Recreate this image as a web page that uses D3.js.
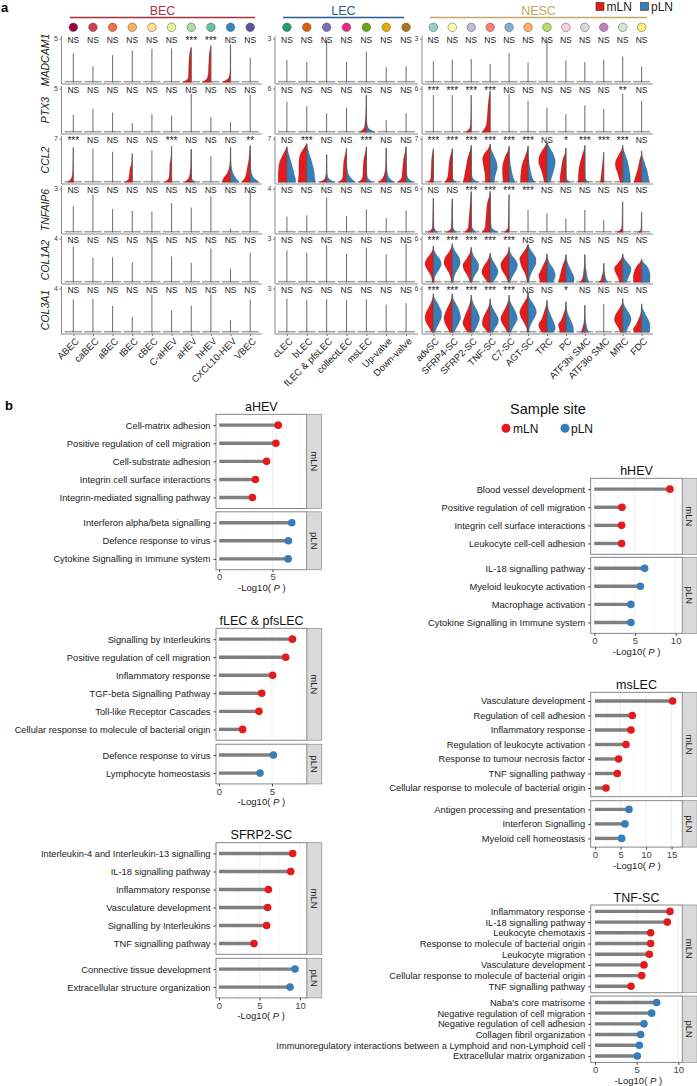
<!DOCTYPE html>
<html><head><meta charset="utf-8">
<script src="https://cdn.jsdelivr.net/npm/d3@7"></script>
<style>body{margin:0;background:#fff;} text{font-family:"Liberation Sans",Arial,Helvetica,sans-serif;}</style>
</head><body><svg id="c" width="697" height="1086"></svg>
<script>
// ================= DATA: panel a =================
const genes = ["MADCAM1","PTX3","CCL2","TNFAIP6","COL1A2","COL3A1"];
const becTypes = ["ABEC","caBEC","aBEC","tBEC","cBEC","C-aHEV","aHEV","hHEV","CXCL10-HEV","VBEC"];
const lecTypes = ["cLEC","bLEC","fLEC & pfsLEC","collectLEC","msLEC","Up-valve","Down-valve"];
const nescTypes = ["advSC","SFRP4-SC","SFRP2-SC","TNF-SC","C7-SC","AGT-SC","TRC","PC","ATF3hi SMC","ATF3lo SMC","MRC","FDC"];
const becColors = ["#9e0142","#d53e4f","#f46d43","#fdae61","#fee08b","#e6f598","#abdda4","#66c2a5","#3288bd","#5e4fa2"];
const lecColors = ["#1b9e77","#d95f02","#7570b3","#e7298a","#66a61e","#e6ab02","#a6761d"];
const nescColors = ["#8dd3c7","#ffffb3","#bebada","#fb8072","#80b1d3","#fdb462","#b3de69","#fccde5","#d9d9d9","#bc80bd","#ccebc5","#ffed6f"];
// y-axis maximum tick per gene row
const yMaxBEC  = [5,5,7,3,4,4];
const yMaxLEC  = [3,6,7,4,3,3];
const yMaxNESC = [3,6,7,6,6,6];
// significance labels (BEC 10 | LEC 7 | NESC 12)
const sigMADCAM1 = ["NS","NS","NS","NS","NS","NS","***","***","NS","NS", "NS","NS","NS","NS","NS","NS","NS", "NS","NS","NS","NS","NS","NS","NS","NS","NS","NS","NS","NS"];
const sigPTX3    = ["NS","NS","NS","NS","NS","NS","NS","NS","NS","NS", "NS","NS","NS","NS","NS","NS","NS", "***","***","***","***","NS","NS","NS","NS","NS","NS","**","NS"];
const sigCCL2    = ["***","NS","NS","NS","NS","***","NS","NS","NS","**", "NS","***","NS","NS","***","NS","NS", "***","***","***","***","***","***","NS","*","***","***","***","NS"];
const sigTNFAIP6 = ["NS","NS","NS","NS","NS","NS","NS","NS","NS","NS", "NS","NS","NS","NS","NS","NS","NS", "NS","NS","***","***","***","***","NS","NS","NS","NS","NS","NS"];
const sigCOL1A2  = ["NS","NS","NS","NS","NS","NS","NS","NS","NS","NS", "NS","NS","NS","NS","NS","NS","NS", "***","***","***","***","***","NS","NS","NS","NS","NS","NS","NS"];
const sigCOL3A1  = ["NS","NS","NS","NS","NS","NS","NS","NS","NS","NS", "NS","NS","NS","NS","NS","NS","NS", "***","***","***","***","***","NS","NS","*","NS","NS","NS","NS"];
// maximum expression (violin top) per cell type
const topMADCAM1 = [3.3,1.8,3.1,3.65,3.85,3.85,4.0,4.2,4.3,2.8, 1.55,1.4,2.9,1.4,2.1,1.04,1.1, 1.45,1.55,1.6,1.27,2.0,1.36,2.9,1.5,1.38,1.55,1.78,1.08];
const topPTX3    = [2.0,2.7,2.25,1.05,2.07,1.9,4.4,1.7,1.15,4.25, 4.2,3.6,2.6,3.4,5.1,1.7,2.6, 5.1,5.1,5.1,5.7,5.2,4.3,3.4,2.5,3.7,3.2,5.3,4.3];
const topCCL2    = [5.6,5.4,4.9,4.6,5.1,5.8,5.3,4.2,5.6,5.9, 5.7,6.2,4.45,5.5,5.7,5.5,5.7, 5.4,5.4,5.9,6.1,5.8,5.8,6.4,5.5,5.9,4.8,5.9,5.0];
const topTNFAIP6 = [1.8,2.58,1.6,1.48,1.43,2.0,1.7,2.47,0.25,2.9, 1.45,1.54,3.2,1.5,2.1,1.3,2.0, 4.67,4.6,5.6,5.6,5.2,3.07,2.6,1.9,3.07,1.7,4.2,2.8];
const topCOL1A2  = [3.26,2.25,2.3,1.84,3.7,2.37,1.78,3.1,1.24,2.7, 2.19,2.03,2.54,1.96,2.38,1.91,2.65, 5.0,5.3,4.8,4.0,4.8,5.2,3.9,3.8,3.8,2.6,3.9,3.2];
const topCOL3A1  = [3.0,3.05,2.4,1.4,3.45,2.0,2.45,3.45,1.1,3.0, 2.3,2.2,2.26,2.2,2.26,1.9,2.0, 5.3,5.3,5.1,4.6,5.1,5.5,4.4,4.2,3.7,3.9,4.6,3.9];
// violin half-widths (mLN = L, pLN = R) at 8 equally spaced levels from 0 to the top
const shapeMADCAM1 = {
  "aHEV":{L:[1.0,0.35,0.32,0.3,0.28,0.26,0.22,0.15]},
  "hHEV":{L:[1.0,0.4,0.3,0.28,0.25,0.22,0.2,0.12]},
  "CXCL10-HEV":{L:[0.9,0.2,0.08,0.06,0.05,0.05,0.04,0.03]}
};
const shapePTX3 = {
  "msLEC":{L:[0.8,0.25,0.15,0.1,0.07,0.05,0.03,0.02],R:[1.0,0.2,0.07,0.04,0.03,0.02,0.02,0.01]},
  "SFRP2-SC":{L:[0.7,0.15,0.08,0.05,0.04,0.03,0.02,0.02]},
  "TNF-SC":{L:[1.0,0.55,0.4,0.35,0.3,0.26,0.2,0.12]}
};
const shapeCCL2 = {
  "ABEC":{L:[0.7,0.2,0.1,0.06,0.05,0.04,0.03,0.02]},
  "tBEC":{L:[0.9,0.4,0.35,0.3,0.25,0.1,0.05,0.03]},
  "C-aHEV":{L:[0.8,0.3,0.25,0.22,0.2,0.12,0.06,0.03]},
  "aHEV":{L:[0.8,0.3,0.15,0.1,0.05,0.04,0.03,0.02],R:[0.5,0.05,0.03,0.02,0.02,0.02,0.01,0.01]},
  "CXCL10-HEV":{L:[1.0,0.8,0.4,0.2,0.1,0.06,0.04,0.02],R:[1.0,0.6,0.3,0.15,0.08,0.05,0.03,0.02]},
  "VBEC":{L:[1.0,0.6,0.45,0.35,0.25,0.15,0.1,0.05],R:[1.0,0.4,0.15,0.08,0.05,0.04,0.03,0.02]},
  "cLEC":{L:[1.0,1.0,1.0,0.95,0.9,0.75,0.5,0.25],R:[1.0,0.95,0.8,0.7,0.55,0.4,0.25,0.1]},
  "bLEC":{L:[1.0,0.95,0.9,0.9,0.9,0.85,0.7,0.35],R:[1.0,0.9,0.85,0.75,0.6,0.45,0.25,0.1]},
  "fLEC & pfsLEC":{L:[0.8,0.2,0.1,0.06,0.04,0.03,0.02,0.02],R:[0.9,0.25,0.08,0.05,0.03,0.02,0.02,0.01]},
  "collectLEC":{L:[0.9,0.45,0.4,0.38,0.35,0.3,0.2,0.1],R:[1.0,0.5,0.2,0.1,0.05,0.03,0.02,0.01]},
  "msLEC":{L:[0.9,0.45,0.4,0.38,0.35,0.3,0.2,0.08],R:[0.7,0.15,0.06,0.04,0.03,0.02,0.02,0.01]},
  "Up-valve":{L:[0.9,0.4,0.2,0.1,0.06,0.04,0.03,0.02],R:[0.9,0.35,0.15,0.08,0.04,0.03,0.02,0.01]},
  "Down-valve":{L:[1.0,0.5,0.45,0.4,0.35,0.3,0.2,0.08],R:[0.8,0.2,0.08,0.05,0.03,0.02,0.02,0.01]},
  "advSC":{L:[0.6,0.3,0.28,0.26,0.24,0.22,0.18,0.1]},
  "SFRP4-SC":{L:[0.9,0.6,0.5,0.45,0.4,0.35,0.25,0.1],R:[0.5,0.05,0.03,0.02,0.02,0.02,0.01,0.01]},
  "SFRP2-SC":{L:[1.0,0.85,0.75,0.65,0.55,0.45,0.3,0.1],R:[0.8,0.15,0.05,0.03,0.02,0.02,0.01,0.01]},
  "TNF-SC":{L:[0.6,0.6,0.65,0.75,0.85,0.9,0.7,0.25],R:[0.5,0.55,0.7,0.85,0.8,0.6,0.35,0.1]},
  "C7-SC":{L:[0.7,0.75,0.8,0.8,0.75,0.6,0.4,0.1],R:[0.7,0.5,0.35,0.25,0.15,0.1,0.05,0.02]},
  "AGT-SC":{L:[0.9,0.9,0.85,0.8,0.7,0.5,0.3,0.1],R:[0.8,0.5,0.35,0.25,0.15,0.1,0.05,0.02]},
  "TRC":{L:[0.3,0.45,0.6,0.8,1.0,0.95,0.7,0.3],R:[0.4,0.55,0.75,0.9,1.0,0.9,0.65,0.3]},
  "PC":{L:[0.7,0.7,0.65,0.55,0.5,0.4,0.25,0.05],R:[0.5,0.05,0.03,0.02,0.02,0.02,0.01,0.01]},
  "ATF3hi SMC":{L:[0.8,0.8,0.75,0.7,0.6,0.45,0.3,0.1],R:[0.5,0.05,0.03,0.02,0.02,0.02,0.01,0.01]},
  "ATF3lo SMC":{L:[0.4,0.35,0.3,0.25,0.2,0.15,0.1,0.05]},
  "MRC":{L:[0.3,0.45,0.6,0.8,0.9,0.75,0.45,0.15],R:[0.9,0.9,0.85,0.75,0.65,0.5,0.3,0.1]},
  "FDC":{L:[0.9,0.8,0.65,0.5,0.4,0.3,0.2,0.05],R:[0.9,0.85,0.75,0.65,0.5,0.35,0.2,0.05]}
};
const shapeTNFAIP6 = {
  "advSC":{L:[0.7,0.12,0.1,0.08,0.07,0.06,0.05,0.03],R:[0.5,0.1,0.05,0.03,0.02,0.02,0.02,0.01]},
  "SFRP4-SC":{L:[0.7,0.12,0.1,0.08,0.07,0.06,0.05,0.03],R:[0.5,0.1,0.05,0.03,0.02,0.02,0.02,0.01]},
  "SFRP2-SC":{L:[0.8,0.35,0.3,0.25,0.2,0.15,0.1,0.05],R:[0.6,0.1,0.04,0.03,0.02,0.02,0.01,0.01]},
  "TNF-SC":{L:[1.0,0.6,0.55,0.5,0.45,0.4,0.3,0.1],R:[0.9,0.15,0.1,0.08,0.06,0.04,0.03,0.02]},
  "C7-SC":{L:[0.6,0.12,0.1,0.08,0.07,0.06,0.05,0.03]},
  "MRC":{L:[0.7,0.15,0.1,0.08,0.07,0.06,0.05,0.03]},
  "FDC":{L:[0.5,0.1,0.08,0.06,0.05,0.04,0.03,0.02]}
};
const shapeCOL1A2 = {
  "advSC":{L:[0.15,0.2,0.45,0.8,1.0,0.85,0.45,0.1],R:[0.1,0.15,0.4,0.75,0.95,0.8,0.4,0.1]},
  "SFRP4-SC":{L:[0.1,0.2,0.4,0.75,1.0,0.9,0.5,0.15],R:[0.1,0.2,0.4,0.75,0.95,0.85,0.5,0.15]},
  "SFRP2-SC":{L:[0.15,0.3,0.6,0.9,1.0,0.7,0.35,0.1],R:[0.1,0.25,0.55,0.85,0.9,0.65,0.3,0.1]},
  "TNF-SC":{L:[0.3,0.6,0.9,1.0,0.85,0.6,0.3,0.1],R:[0.3,0.6,0.85,0.95,0.8,0.55,0.3,0.1]},
  "C7-SC":{L:[0.1,0.3,0.6,0.9,1.0,0.8,0.4,0.1],R:[0.1,0.3,0.6,0.9,1.0,0.8,0.4,0.1]},
  "AGT-SC":{L:[0.1,0.2,0.4,0.7,0.9,1.0,0.7,0.3],R:[0.1,0.2,0.4,0.7,0.95,0.95,0.65,0.25]},
  "TRC":{L:[0.8,0.9,1.0,0.8,0.6,0.4,0.2,0.05],R:[0.7,0.9,1.0,0.9,0.7,0.4,0.2,0.05]},
  "PC":{L:[0.9,0.8,0.7,0.6,0.5,0.35,0.2,0.05],R:[0.9,1.0,0.9,0.7,0.5,0.3,0.15,0.05]},
  "ATF3hi SMC":{L:[0.6,0.3,0.2,0.15,0.1,0.05,0.03,0.02],R:[0.5,0.35,0.25,0.2,0.1,0.05,0.03,0.02]},
  "ATF3lo SMC":{L:[0.6,0.35,0.25,0.2,0.1,0.05,0.03,0.02],R:[0.5,0.3,0.2,0.15,0.1,0.05,0.03,0.02]},
  "MRC":{L:[0.4,0.5,0.7,0.9,1.0,0.7,0.35,0.1],R:[0.45,0.6,0.8,0.95,1.0,0.75,0.4,0.1]},
  "FDC":{L:[1.0,1.0,1.0,0.95,0.85,0.7,0.45,0.15],R:[1.0,1.0,1.0,1.0,0.9,0.75,0.5,0.15]}
};
const shapeCOL3A1 = {
  "advSC":{L:[0.2,0.5,0.85,1.0,0.9,0.6,0.3,0.1],R:[0.2,0.4,0.7,0.95,1.0,0.8,0.5,0.15]},
  "SFRP4-SC":{L:[0.3,0.6,0.9,1.0,0.85,0.6,0.3,0.1],R:[0.2,0.5,0.8,1.0,0.9,0.7,0.4,0.1]},
  "SFRP2-SC":{L:[0.4,0.8,1.0,0.85,0.65,0.4,0.2,0.05],R:[0.3,0.6,0.85,1.0,0.85,0.6,0.3,0.1]},
  "TNF-SC":{L:[0.3,0.7,0.95,0.9,0.7,0.45,0.2,0.05],R:[0.3,0.6,0.9,1.0,0.8,0.5,0.25,0.05]},
  "C7-SC":{L:[0.2,0.5,0.85,1.0,0.8,0.5,0.25,0.05],R:[0.2,0.45,0.8,1.0,0.85,0.6,0.3,0.05]},
  "AGT-SC":{L:[0.1,0.2,0.5,0.85,1.0,0.8,0.45,0.1],R:[0.1,0.2,0.45,0.8,1.0,0.85,0.5,0.1]},
  "TRC":{L:[0.6,0.9,1.0,0.7,0.5,0.35,0.2,0.05],R:[0.7,1.0,0.9,0.7,0.5,0.3,0.15,0.05]},
  "PC":{L:[0.7,0.8,0.9,0.6,0.4,0.25,0.1,0.03],R:[0.9,0.9,0.8,0.6,0.4,0.2,0.1,0.03]},
  "ATF3hi SMC":{L:[0.5,0.3,0.2,0.1,0.05,0.03,0.02,0.02],R:[0.5,0.3,0.2,0.1,0.05,0.03,0.02,0.02]},
  "MRC":{L:[0.3,0.5,0.8,1.0,0.9,0.6,0.3,0.05],R:[0.4,0.6,0.85,1.0,0.9,0.6,0.3,0.05]},
  "FDC":{L:[0.9,1.0,0.7,0.5,0.3,0.15,0.05,0.02],R:[0.9,1.0,1.0,0.9,0.7,0.45,0.25,0.05]}
};

// ================= DATA: panel b =================
const aHEV_mLN = ["Cell-matrix adhesion","Positive regulation of cell migration","Cell-substrate adhesion","Integrin cell surface interactions","Integrin-mediated signalling pathway"];
const aHEV_mLN_p = [5.53,5.31,4.44,3.39,3.11];
const aHEV_pLN = ["Interferon alpha/beta signalling","Defence response to virus","Cytokine Signalling in Immune system"];
const aHEV_pLN_p = [6.80,6.49,6.46];
const hHEV_mLN = ["Blood vessel development","Positive regulation of cell migration","Integrin cell surface interactions","Leukocyte cell-cell adhesion"];
const hHEV_mLN_p = [9.3,3.4,3.36,3.36];
const hHEV_pLN = ["IL-18 signalling pathway","Myeloid leukocyte activation","Macrophage activation","Cytokine Signalling in Immune system"];
const hHEV_pLN_p = [6.19,5.66,4.5,4.5];
const fLEC_mLN = ["Signalling by Interleukins","Positive regulation of cell migration","Inflammatory response","TGF-beta Signalling Pathway","Toll-like Receptor Cascades","Cellular response to molecule of bacterial origin"];
const fLEC_mLN_p = [6.92,6.29,5.06,4.03,3.77,2.23];
const fLEC_pLN = ["Defence response to virus","Lymphocyte homeostasis"];
const fLEC_pLN_p = [5.13,3.87];
const msLEC_mLN = ["Vasculature development","Regulation of cell adhesion","Inflammatory response","Regulation of leukocyte activation","Response to tumour necrosis factor","TNF signalling pathway","Cellular response to molecule of bacterial origin"];
const msLEC_mLN_p = [15.2,7.3,7.05,6.07,4.63,4.37,2.15];
const msLEC_pLN = ["Antigen processing and presentation","Interferon Signalling","Myeloid cell homeostasis"];
const msLEC_pLN_p = [6.65,5.87,5.22];
const SFRP2_mLN = ["Interleukin-4 and Interleukin-13 signalling","IL-18 signalling pathway","Inflammatory response","Vasculature development","Signalling by Interleukins","TNF signalling pathway"];
const SFRP2_mLN_p = [9.09,8.85,6.09,6.0,5.88,4.32];
const SFRP2_pLN = ["Connective tissue development","Extracellular structure organization"];
const SFRP2_pLN_p = [9.38,8.77];
const TNF_mLN = ["Inflammatory response","IL-18 signalling pathway","Leukocyte chemotaxis","Response to molecule of bacterial origin","Leukocyte migration","Vasculature development","Cellular response to molecule of bacterial origin","TNF signalling pathway"];
const TNF_mLN_p = [9.0,8.68,6.68,6.68,6.52,5.88,5.6,4.32];
const TNF_pLN = ["Naba's core matrisome","Negative regulation of cell migration","Negative regulation of cell adhesion","Collagen fibril organization","Immunoregulatory interactions between a Lymphoid and non-Lymphoid cell","Extracellular matrix organization"];
const TNF_pLN_p = [7.4,6.8,5.88,5.48,5.32,5.08];

// ================= DRAWING =================
const RED = "#e41a1c", BLUE = "#377eb8";
const svg = d3.select("#c");
const sigByGene = [sigMADCAM1,sigPTX3,sigCCL2,sigTNFAIP6,sigCOL1A2,sigCOL3A1];
const topByGene = [topMADCAM1,topPTX3,topCCL2,topTNFAIP6,topCOL1A2,topCOL3A1];
const shapeByGene = [shapeMADCAM1,shapePTX3,shapeCCL2,shapeTNFAIP6,shapeCOL1A2,shapeCOL3A1];

svg.append("text").attr("x",1).attr("y",12).attr("font-size",13).attr("font-weight","bold").text("a");

// legend top right
svg.append("rect").attr("x",596).attr("y",2.5).attr("width",8).attr("height",8).attr("fill",RED).attr("stroke","#333").attr("stroke-width",0.6);
svg.append("text").attr("x",606.5).attr("y",11).attr("font-size",12).attr("fill","#222").text("mLN");
svg.append("rect").attr("x",640.5).attr("y",2.5).attr("width",8).attr("height",8).attr("fill",BLUE).attr("stroke","#333").attr("stroke-width",0.6);
svg.append("text").attr("x",651).attr("y",11).attr("font-size",12).attr("fill","#222").text("pLN");

// gene labels
genes.forEach((g,r)=>{
  svg.append("text").attr("transform",`translate(49,${60+50*r}) rotate(-90)`)
    .attr("text-anchor","middle").attr("font-size",10.5).attr("font-style","italic").attr("fill","#222").text(g);
});

const groupDefs = [
  {name:"BEC", types:becTypes, colors:becColors, yMax:yMaxBEC, off:0, x0:61.5, x1:262, col:"#a6303f", head:[70,255]},
  {name:"LEC", types:lecTypes, colors:lecColors, yMax:yMaxLEC, off:10, x0:275, x1:418, col:"#2a5d8f", head:[283,404]},
  {name:"NESC", types:nescTypes, colors:nescColors, yMax:yMaxNESC, off:17, x0:422, x1:653, col:"#c2a866", head:[430,647]}
];

function sidePath(cx, ys, top, w, s, hw){
  const n = w.length;
  const pts = w.map((v,i)=>({h: top*i/n, w: v}));
  pts.push({h: top, w: 0});
  pts.reverse();
  return d3.area().curve(d3.curveMonotoneY)
    .y(d=>ys(d.h)).x0(cx).x1(d=>cx + s*d.w*hw)(pts);
}

groupDefs.forEach(g=>{
  const xs = d3.scalePoint().domain(g.types).range([g.x0,g.x1]).padding(0.6);
  const hw = xs.step()*0.44;
  const G = svg.append("g");
  // header
  G.append("line").attr("x1",g.head[0]).attr("x2",g.head[1]).attr("y1",17.5).attr("y2",17.5)
    .attr("stroke",g.col).attr("stroke-width",1.6);
  G.append("text").attr("x",(g.head[0]+g.head[1])/2).attr("y",15).attr("text-anchor","middle")
    .attr("font-size",12.5).attr("fill",g.col).text(g.name);
  G.selectAll("circle.hd").data(g.types).join("circle").attr("class","hd")
    .attr("cx",d=>xs(d)).attr("cy",27.3).attr("r",4.3)
    .attr("fill",(d,i)=>g.colors[i]).attr("stroke","#555").attr("stroke-width",0.5);

  genes.forEach((gene,r)=>{
    const ptop = 36+50*r, pbot = 84+50*r;
    const ys = d3.scaleLinear().domain([0,g.yMax[r]]).range([82.3+50*r, 38.6+50*r]);
    // axes lines
    G.append("line").attr("x1",g.x0).attr("x2",g.x0).attr("y1",ptop).attr("y2",pbot).attr("stroke","#8a8a8a").attr("stroke-width",1);
    G.append("line").attr("x1",g.x0).attr("x2",g.x1).attr("y1",pbot).attr("y2",pbot).attr("stroke","#8a8a8a").attr("stroke-width",1);
    const ya = G.append("g").attr("transform",`translate(${g.x0},0)`)
      .call(d3.axisLeft(ys).tickValues([g.yMax[r]]).tickFormat(d3.format("d")).tickSize(2).tickPadding(1.5));
    ya.select(".domain").remove();
    ya.selectAll("line").attr("stroke","#777");
    ya.selectAll("text").attr("font-size",7).attr("fill","#444").attr("font-family","Liberation Sans, Arial, sans-serif");

    g.types.forEach((t,i)=>{
      const k = g.off+i, cx = xs(t);
      const top = topByGene[r][k];
      const sh = shapeByGene[r][t];
      // base (zero-expression spike)
      G.append("line").attr("x1",cx-hw).attr("x2",cx+hw).attr("y1",ys(0)-0.6).attr("y2",ys(0)-0.6)
        .attr("stroke","#a3a3a3").attr("stroke-width",1.6);
      if(sh && sh.L) G.append("path").attr("d",sidePath(cx,ys,top,sh.L,-1,hw)).attr("fill",RED).attr("stroke","#3a3a3a").attr("stroke-width",0.25);
      if(sh && sh.R) G.append("path").attr("d",sidePath(cx,ys,top,sh.R,1,hw)).attr("fill",BLUE).attr("stroke","#3a3a3a").attr("stroke-width",0.25);
      G.append("line").attr("x1",cx).attr("x2",cx).attr("y1",ys(0)).attr("y2",ys(top))
        .attr("stroke","#5a5a5a").attr("stroke-width",0.9);
      const s = sigByGene[r][k];
      G.append("text").attr("x",cx).attr("y",s==="NS"?42.6+50*r:44+50*r).attr("text-anchor","middle")
        .attr("font-size",s==="NS"?8.5:10).attr("fill","#222").text(s);
    });
  });
  // x axis labels
  const xa = G.append("g").attr("transform","translate(0,334)")
    .call(d3.axisBottom(xs).tickSize(2).tickPadding(2));
  xa.select(".domain").remove();
  xa.selectAll("line").attr("stroke","#777");
  xa.selectAll("text").attr("font-size",9.5).attr("fill","#222").attr("font-family","Liberation Sans, Arial, sans-serif")
    .attr("text-anchor","end").attr("dy",0)
    .attr("transform","translate(3,5) rotate(-45)");
});

// ================= panel b =================
svg.append("text").attr("x",5).attr("y",410).attr("font-size",13).attr("font-weight","bold").text("b");
svg.append("text").attr("x",548).attr("y",414).attr("text-anchor","middle").attr("font-size",14.5).attr("fill","#111").text("Sample site");
svg.append("circle").attr("cx",506).attr("cy",428.3).attr("r",4.5).attr("fill",RED);
svg.append("text").attr("x",513).attr("y",432.5).attr("font-size",12).attr("fill","#111").text("mLN");
svg.append("circle").attr("cx",565).attr("cy",428.3).attr("r",4.5).attr("fill",BLUE);
svg.append("text").attr("x",571).attr("y",432.5).attr("font-size",12).attr("fill","#111").text("pLN");

function lollipop(c){
  const G = svg.append("g");
  const x = d3.scaleLinear().domain(c.domain).range([c.x0,c.x1]);
  const n1 = c.mT.length, n2 = c.pT.length;
  const h1 = (n1-1+1.2)*c.step, h2 = (n2-1+1.2)*c.step;
  const facets = [
    {terms:c.mT, vals:c.mV, col:RED, lab:"mLN", y0:c.top, y1:c.top+h1},
    {terms:c.pT, vals:c.pV, col:BLUE, lab:"pLN", y0:c.top+h1+c.gap, y1:c.top+h1+c.gap+h2}
  ];
  G.append("text").attr("x",(c.x0+c.x1)/2).attr("y",c.top-3.5).attr("text-anchor","middle")
    .attr("font-size",12.5).attr("fill","#111").text(c.title);
  const minor = c.ticks.map(v=>v+2.5);
  facets.forEach(f=>{
    const y = d3.scalePoint().domain(f.terms).range([f.y0,f.y1]).padding(0.6);
    minor.filter(v=>x(v)<c.x1-1).forEach(v=>G.append("line").attr("x1",x(v)).attr("x2",x(v)).attr("y1",f.y0).attr("y2",f.y1).attr("stroke","#f3f3f3").attr("stroke-width",0.5));
    c.ticks.forEach(v=>G.append("line").attr("x1",x(v)).attr("x2",x(v)).attr("y1",f.y0).attr("y2",f.y1).attr("stroke","#e8e8e8").attr("stroke-width",0.7));
    f.terms.forEach((t,i)=>{
      G.append("line").attr("x1",x(0)).attr("x2",x(f.vals[i])).attr("y1",y(t)).attr("y2",y(t))
        .attr("stroke","#7f7f7f").attr("stroke-width",3.4);
      G.append("circle").attr("cx",x(f.vals[i])).attr("cy",y(t)).attr("r",3.8).attr("fill",f.col);
    });
    G.append("rect").attr("x",c.x0).attr("y",f.y0).attr("width",c.x1-c.x0).attr("height",f.y1-f.y0)
      .attr("fill","none").attr("stroke","#7a7a7a").attr("stroke-width",0.9);
    const ya = G.append("g").attr("transform",`translate(${c.x0},0)`)
      .call(d3.axisLeft(y).tickSize(2.5).tickPadding(3));
    ya.select(".domain").remove();
    ya.selectAll("line").attr("stroke","#444");
    ya.selectAll("text").attr("font-size",9.3).attr("fill","#1a1a1a").attr("font-family","Liberation Sans, Arial, sans-serif");
    // strip
    G.append("rect").attr("x",c.x1).attr("y",f.y0).attr("width",14.8).attr("height",f.y1-f.y0)
      .attr("fill","#d9d9d9").attr("stroke","#8a8a8a").attr("stroke-width",0.7);
    G.append("text").attr("transform",`translate(${c.x1+7.4},${(f.y0+f.y1)/2}) rotate(90)`)
      .attr("text-anchor","middle").attr("dy","0.35em").attr("font-size",9.5).attr("fill","#1a1a1a").text(f.lab);
  });
  const yb = facets[1].y1;
  const xa = G.append("g").attr("transform",`translate(0,${yb})`)
    .call(d3.axisBottom(x).tickValues(c.ticks).tickSize(2.5).tickPadding(1.5));
  xa.select(".domain").remove();
  xa.selectAll("line").attr("stroke","#444");
  xa.selectAll("text").attr("font-size",9.5).attr("fill","#444").attr("font-family","Liberation Sans, Arial, sans-serif");
  const tt = G.append("text").attr("x",x(c.titleAt)).attr("y",yb+21.5).attr("text-anchor","middle").attr("font-size",9.5).attr("fill","#1a1a1a");
  tt.append("tspan").text("-Log10( ");
  tt.append("tspan").attr("font-style","italic").text("P");
  tt.append("tspan").text(" )");
}

lollipop({title:"aHEV", mT:aHEV_mLN, mV:aHEV_mLN_p, pT:aHEV_pLN, pV:aHEV_pLN_p, x0:216, x1:306.7, top:414.3, step:18.1, gap:3.4, domain:[-0.3,8.2], ticks:[0,5], titleAt:4});
lollipop({title:"hHEV", mT:hHEV_mLN, mV:hHEV_mLN_p, pT:hHEV_pLN, pV:hHEV_pLN_p, x0:590.7, x1:682.3, top:478.3, step:18.1, gap:3, domain:[-0.44,10.82], ticks:[0,5,10], titleAt:5.2});
lollipop({title:"fLEC & pfsLEC", mT:fLEC_mLN, mV:fLEC_mLN_p, pT:fLEC_pLN, pV:fLEC_pLN_p, x0:216, x1:307, top:628.3, step:18.05, gap:4, domain:[-0.28,8.3], ticks:[0,5], titleAt:4});
lollipop({title:"SFRP2-SC", mT:SFRP2_mLN, mV:SFRP2_mLN_p, pT:SFRP2_pLN, pV:SFRP2_pLN_p, x0:216, x1:307, top:842.7, step:18.0, gap:4, domain:[-0.37,10.86], ticks:[0,5,10], titleAt:5.2});
lollipop({title:"msLEC", mT:msLEC_mLN, mV:msLEC_mLN_p, pT:msLEC_pLN, pV:msLEC_pLN_p, x0:590.7, x1:682.3, top:692.3, step:14.5, gap:4, domain:[-0.84,17.1], ticks:[0,5,10,15], titleAt:8.2});
lollipop({title:"TNF-SC", mT:TNF_mLN, mV:TNF_mLN_p, pT:TNF_pLN, pV:TNF_pLN_p, x0:590.7, x1:682.3, top:905, step:10.7, gap:3.3, domain:[-0.52,10.48], ticks:[0,5,10], titleAt:5.2});
</script></body></html>
